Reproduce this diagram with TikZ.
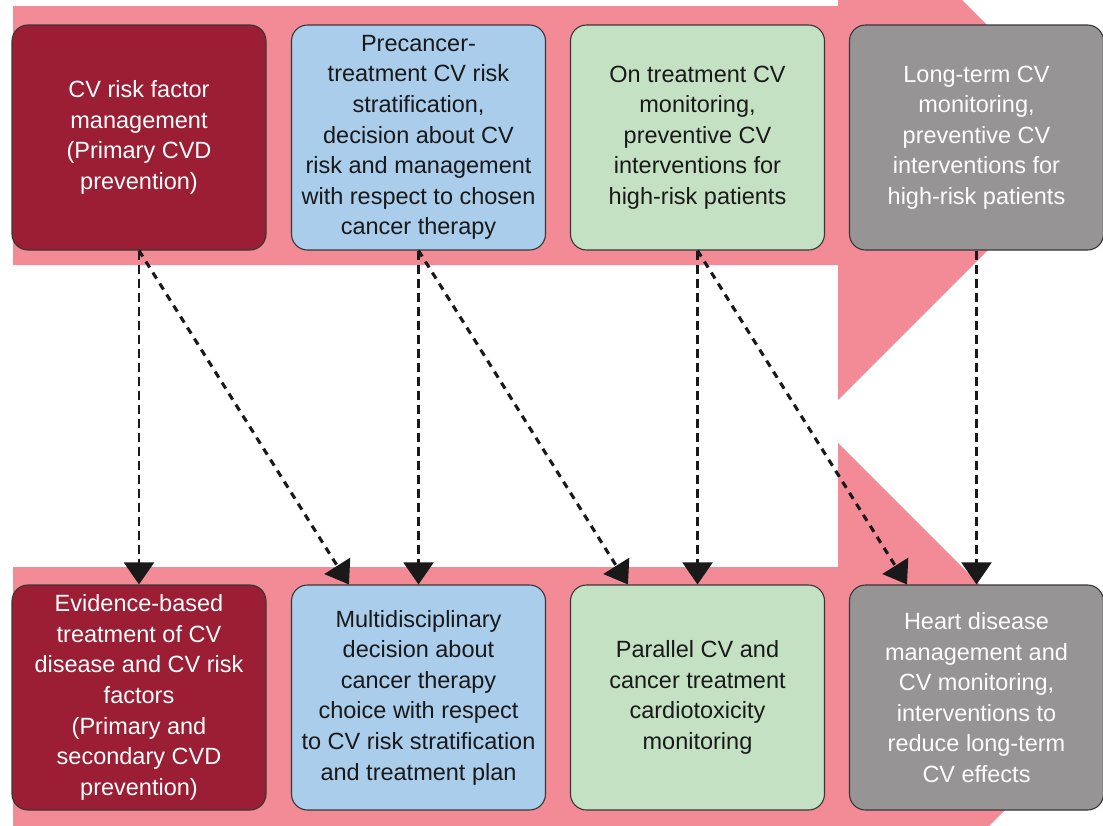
\documentclass[tikz,border=0pt]{standalone}
\usepackage{fontspec}
\setmainfont{Liberation Sans}
\usetikzlibrary{arrows.meta,calc}

\definecolor{bandpink}{RGB}{242,139,150}
\definecolor{cvred}{RGB}{155,30,52}
\definecolor{cvblue}{RGB}{169,205,235}
\definecolor{cvgreen}{RGB}{196,226,195}
\definecolor{cvgrey}{RGB}{150,148,148}
\definecolor{edge}{RGB}{55,55,55}
\definecolor{ink}{RGB}{25,25,25}

\tikzset{
  stagebox/.style={draw=edge, line width=1.1pt, rounded corners=16pt,
    minimum width=254pt, minimum height=225pt, inner sep=0pt,
    align=center, font=\fontsize{23.5pt}{30.6pt}\selectfont},
  redbox/.style={stagebox, fill=cvred, text=white},
  bluebox/.style={stagebox, fill=cvblue, text=ink},
  greenbox/.style={stagebox, fill=cvgreen, text=ink},
  greybox/.style={stagebox, fill=cvgrey, text=white},
  downlink/.style={draw=ink, line width=2.1pt, dash pattern=on 9pt off 5pt,
    -{Triangle[length=22pt,width=30pt]}},
  crosslink/.style={draw=ink, line width=3.1pt, dash pattern=on 7pt off 6pt,
    -{Triangle[length=22pt,width=30pt]}},
}

\begin{document}
\begin{tikzpicture}[x=1pt,y=-1pt]
\useasboundingbox (0,0) rectangle (1103,825);

% pink timeline arrows behind the two rows
\begin{scope}
  \clip (0,0) rectangle (1103,825);
  \fill[bandpink] (13,6) -- (838,6) -- (838,-124) -- (1100,138)
    -- (838,400) -- (838,265) -- (13,265) -- cycle;
  \fill[bandpink] (13,567) -- (838,567) -- (838,443) -- (1105,710)
    -- (838,977) -- (838,853) -- (13,853) -- cycle;
\end{scope}

% upper row
\node[redbox] (t1) at (139,137.5) {CV risk factor\\management\\(Primary CVD\\prevention)};
\node[bluebox] (t2) at (418.5,137.5) {Precancer-\\treatment CV risk\\stratification,\\decision about CV\\risk and management\\with respect to chosen\\cancer therapy};
\node[greenbox] (t3) at (697.5,137.5) {On treatment CV\\monitoring,\\preventive CV\\interventions for\\high-risk patients};
\node[greybox] (t4) at (976.5,137.5) {Long-term CV\\monitoring,\\preventive CV\\interventions for\\high-risk patients};

% lower row
\node[redbox] (b1) at (139,697.5) {Evidence-based\\treatment of CV\\disease and CV risk\\factors\\(Primary and\\secondary CVD\\prevention)};
\node[bluebox] (b2) at (418.5,697.5) {Multidisciplinary\\decision about\\cancer therapy\\choice with respect\\to CV risk stratification\\and treatment plan};
\node[greenbox] (b3) at (697.5,697.5) {Parallel CV and\\cancer treatment\\cardiotoxicity\\monitoring};
\node[greybox] (b4) at (976.5,697.5) {Heart disease\\management and\\CV monitoring,\\interventions to\\reduce long-term\\CV effects};

% landing points of the diagonal links
\coordinate (in2) at ($(b2.north west)+(58,0)$);
\coordinate (in3) at ($(b3.north west)+(58,0)$);
\coordinate (in4) at ($(b4.north west)+(58,0)$);

% links between the rows
\draw[downlink] (t1.south) -- (b1.north);
\draw[crosslink] (t1.south) -- (in2);
\draw[downlink] (t2.south) -- (b2.north);
\draw[crosslink] (t2.south) -- (in3);
\draw[downlink] (t3.south) -- (b3.north);
\draw[crosslink] (t3.south) -- (in4);
\draw[downlink] (t4.south) -- (b4.north);
\end{tikzpicture}
\end{document}
